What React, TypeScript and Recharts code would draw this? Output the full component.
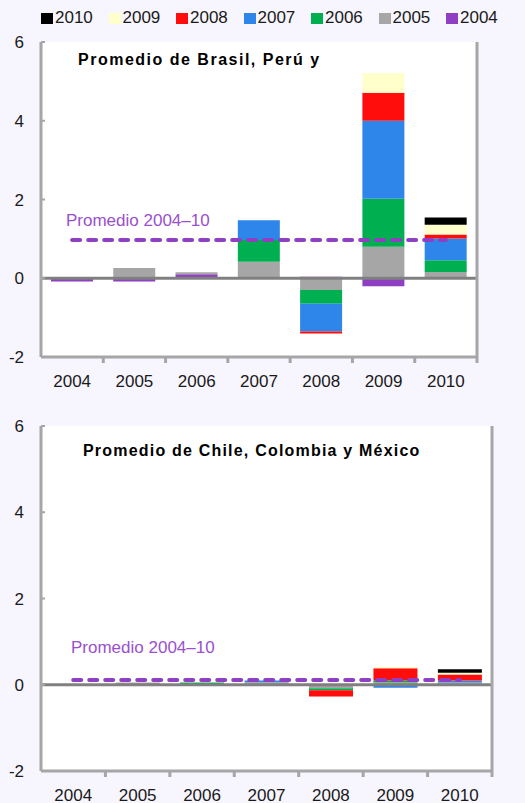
import {
  Bar,
  CartesianGrid,
  ComposedChart,
  Line,
  ReferenceLine,
  XAxis,
  YAxis,
} from "recharts";

// Años de la categoría (eje X) y marcas del eje Y
const years = ["2004", "2005", "2006", "2007", "2008", "2009", "2010"];
const yTicks = [-2, 0, 2, 4, 6];

// Panel superior: Promedio de Brasil, Perú y ...
const brasil2004 = [-0.08, -0.08, 0.1, 0, 0.04, -0.2, 0];
const brasil2005 = [0, 0.26, 0.05, 0.42, -0.3, 0.8, 0.16];
const brasil2006 = [0, 0, 0, 0.55, -0.35, 1.22, 0.3];
const brasil2007 = [0, 0, 0, 0.5, -0.7, 1.98, 0.55];
const brasil2008 = [0, 0, 0, 0, -0.05, 0.71, 0.1];
const brasil2009 = [0, 0, 0, 0, 0, 0.5, 0.25];
const brasil2010 = [0, 0, 0, 0, 0, 0, 0.18];
const brasilAvg = [0.97, 0.97, 0.97, 0.97, 0.97, 0.97, 0.97];

// Panel inferior: Promedio de Chile, Colombia y México
const chile2004 = [0, 0, 0, 0, 0, 0, 0];
const chile2005 = [0, 0.05, 0, 0.06, -0.08, 0.05, 0.05];
const chile2006 = [0, 0, 0.05, 0, -0.05, 0.05, 0];
const chile2007 = [0, 0, 0, 0.04, 0, -0.07, 0.05];
const chile2008 = [0, 0, 0, 0, -0.14, 0.28, 0.14];
const chile2009 = [0, 0, 0, 0, 0, 0.04, 0.04];
const chile2010 = [0, 0, 0, 0, 0, 0, 0.08];
const chileAvg = [0.11, 0.11, 0.11, 0.11, 0.11, 0.11, 0.11];

// series in stacking order (first = nearest zero)
const seriesKeys = ["y2004", "y2005", "y2006", "y2007", "y2008", "y2009", "y2010"];
const seriesColors: Record<string, string> = {
  y2004: "#8e3fc2",
  y2005: "#a6a6a6",
  y2006: "#00b050",
  y2007: "#2e86ea",
  y2008: "#ff0d0d",
  y2009: "#ffffcc",
  y2010: "#000000",
};

const FONT = '"Liberation Sans", Arial, sans-serif';
const AXIS = "#a6a6a6";
const PURPLE = "#8e3fc2";

function buildRows(cols: number[][], avg: number[]) {
  return years.map((year, i) => {
    const row: Record<string, number | string> = { year, avg: avg[i] };
    seriesKeys.forEach((k, j) => {
      row[k] = cols[j][i];
    });
    return row;
  });
}

const brasilRows = buildRows(
  [brasil2004, brasil2005, brasil2006, brasil2007, brasil2008, brasil2009, brasil2010],
  brasilAvg
);
const chileRows = buildRows(
  [chile2004, chile2005, chile2006, chile2007, chile2008, chile2009, chile2010],
  chileAvg
);

// category label with the tick mark drawn on the band boundary
function YearTick(props: any) {
  const { x, y, payload } = props;
  const off = payload?.offset ?? 31;
  return (
    <g>
      <line x1={x + off} x2={x + off} y1={y - 8} y2={y - 2} stroke={AXIS} strokeWidth={3} />
      <text
        x={x}
        y={y + 10}
        dy="0.71em"
        textAnchor="middle"
        fontSize={17}
        fontFamily={FONT}
        fill="#1a1a1a"
      >
        {payload.value}
      </text>
    </g>
  );
}

function Panel({
  rows,
  height,
  xAxisHeight,
  rightWidth,
}: {
  rows: Record<string, number | string>[];
  height: number;
  xAxisHeight: number;
  rightWidth: number;
}) {
  const tick = { fontSize: 17, fontFamily: FONT, fill: "#1a1a1a" };
  return (
    <ComposedChart
      width={525}
      height={height}
      data={rows}
      stackOffset="sign"
      barCategoryGap="16%"
      margin={{ top: 42, right: 0, bottom: 0, left: 0 }}
    >
      <CartesianGrid fill="#ffffff" horizontal={false} vertical={false} />
      <XAxis
        dataKey="year"
        height={xAxisHeight}
        tick={<YearTick />}
        tickLine={false}
        axisLine={{ stroke: AXIS, strokeWidth: 3 }}
        interval={0}
      />
      <YAxis
        yAxisId="left"
        domain={[-2, 6]}
        ticks={yTicks}
        width={41}
        tick={tick}
        tickSize={-4}
        tickMargin={21}
        tickLine={{ stroke: AXIS, strokeWidth: 2 }}
        axisLine={{ stroke: AXIS, strokeWidth: 3 }}
      />
      <YAxis
        yAxisId="right"
        orientation="right"
        domain={[-2, 6]}
        ticks={yTicks}
        width={rightWidth}
        tick={{ ...tick, textAnchor: "start" }}
        tickSize={-4}
        tickMargin={20}
        tickLine={{ stroke: AXIS, strokeWidth: 2 }}
        axisLine={{ stroke: AXIS, strokeWidth: 3 }}
      />
      {seriesKeys.map((k) => (
        <Bar
          key={k}
          yAxisId="left"
          dataKey={k}
          stackId="s"
          fill={seriesColors[k]}
          isAnimationActive={false}
        />
      ))}
      <ReferenceLine yAxisId="left" y={0} stroke="#808080" strokeWidth={3} />
      <Line
        yAxisId="left"
        dataKey="avg"
        stroke={PURPLE}
        strokeWidth={4}
        strokeDasharray="8 8"
        strokeLinecap="round"
        dot={false}
        isAnimationActive={false}
      />
    </ComposedChart>
  );
}

const legendItems = [...seriesKeys].reverse();

export default function App() {
  const abs = (left: number, top: number): React.CSSProperties => ({
    position: "absolute",
    left,
    top,
  });
  return (
    <div
      style={{
        position: "absolute",
        left: 0,
        top: 0,
        width: 525,
        height: 803,
        background: "#f7f5fd",
        fontFamily: FONT,
        overflow: "hidden",
      }}
    >
      {legendItems.map((k, i) => (
        <div
          key={k}
          style={{ ...abs(41 + i * 67.5, 8), display: "flex", alignItems: "center", fontSize: 17, color: "#1a1a1a" }}
        >
          <span style={{ width: 12, height: 11, background: seriesColors[k], marginRight: 2 }} />
          <span>{k.slice(1)}</span>
        </div>
      ))}

      <div style={abs(0, 0)}>
        <Panel rows={brasilRows} height={400} xAxisHeight={43} rightWidth={48} />
      </div>
      <div style={abs(0, 384)}>
        <Panel rows={chileRows} height={419} xAxisHeight={32} rightWidth={33} />
      </div>

      <div style={{ ...abs(78, 51), fontSize: 16, fontWeight: "bold", letterSpacing: 1.5, color: "#000" }}>
        Promedio de Brasil, Perú y
      </div>
      <div style={{ ...abs(83, 442), fontSize: 16, fontWeight: "bold", letterSpacing: 1.2, color: "#000" }}>
        Promedio de Chile, Colombia y México
      </div>
      <div style={{ ...abs(66, 211), fontSize: 17, color: "#9b4fd0" }}>Promedio 2004–10</div>
      <div style={{ ...abs(71, 638), fontSize: 17, color: "#9b4fd0" }}>Promedio 2004–10</div>
    </div>
  );
}
